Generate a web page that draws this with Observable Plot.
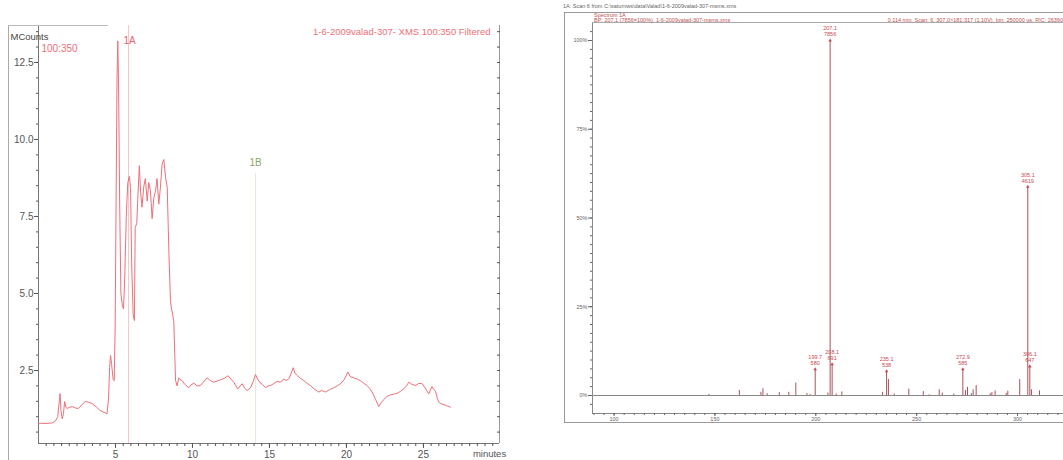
<!DOCTYPE html>
<html>
<head>
<meta charset="utf-8">
<script src="https://cdn.jsdelivr.net/npm/d3@7"></script>
<script src="https://cdn.jsdelivr.net/npm/@observablehq/plot@0.6"></script>
<style>
  html, body { margin: 0; padding: 0; background: #fff; }
  #wrap { position: relative; width: 1063px; height: 460px; overflow: hidden; font-family: "Liberation Sans", Arial, sans-serif; }
  #left, #right { position: absolute; top: 0; }
  #left { left: 0; }
  #right { left: 564px; }
  .hdr { position: absolute; font-size: 5.5px; white-space: nowrap; }
  .line { position: absolute; background: #999; }
</style>
</head>
<body>
<div id="wrap">
  <div id="left"></div>
  <div id="right"></div>
</div>
<script>
// ---------- Chromatogram (left) ----------
const chromTime = [0.0,0.5,0.9,1.1,1.25,1.35,1.4,1.46,1.54,1.62,1.7,1.78,1.86,2.0,2.19,2.4,2.6,2.8,3.04,3.25,3.47,3.75,4.0,4.25,4.45,4.55,4.62,4.68,4.75,4.85,4.92,4.98,5.04,5.1,5.15,5.2,5.27,5.35,5.45,5.52,5.6,5.7,5.8,5.9,5.98,6.05,6.15,6.23,6.28,6.38,6.46,6.55,6.63,6.72,6.83,6.94,7.06,7.16,7.27,7.38,7.49,7.6,7.7,7.81,7.92,8.03,8.14,8.25,8.36,8.47,8.57,8.62,8.72,8.79,8.85,8.9,9.0,9.11,9.22,9.33,9.5,9.76,9.9,10.09,10.3,10.52,10.7,10.95,11.15,11.38,11.6,11.82,12.05,12.31,12.5,12.68,12.94,13.1,13.23,13.4,13.55,13.77,13.95,14.09,14.25,14.41,14.55,14.74,14.9,15.06,15.3,15.5,15.7,15.93,16.1,16.26,16.4,16.54,16.65,16.8,17.0,17.23,17.45,17.66,17.9,18.2,18.4,18.64,18.9,19.18,19.4,19.61,19.85,20.09,20.25,20.48,20.7,20.91,21.1,21.34,21.5,21.67,21.9,22.1,22.25,22.42,22.6,22.86,23.05,23.29,23.5,23.72,23.9,24.05,24.25,24.48,24.7,24.92,25.15,25.35,25.48,25.56,25.65,25.78,25.9,26.0,26.15,26.32,26.5,26.76];
const chromCounts = [0.79,0.78,0.80,0.86,1.0,1.5,1.75,1.2,0.93,1.1,1.49,1.3,1.27,1.3,1.33,1.28,1.27,1.38,1.50,1.47,1.43,1.32,1.2,1.14,1.10,1.6,2.6,2.99,2.7,2.2,2.17,4.0,8.0,12.0,13.2,11.8,8.0,5.0,4.6,4.5,5.5,7.5,8.6,8.8,8.4,6.0,4.3,4.12,7.14,7.27,8.2,9.15,8.3,7.8,8.45,8.73,8.0,8.6,8.34,7.43,8.1,8.34,8.73,7.9,8.45,9.2,9.35,8.77,8.45,6.3,4.77,4.55,4.3,4.07,3.0,2.18,2.0,2.26,2.2,2.17,2.05,1.94,2.03,2.09,2.0,2.01,2.12,2.26,2.18,2.12,2.16,2.2,2.24,2.33,2.22,2.12,1.9,2.0,2.07,1.92,1.85,1.94,2.15,2.37,2.2,2.09,2.05,1.94,2.0,2.01,2.08,2.15,2.12,2.22,2.18,2.23,2.4,2.59,2.42,2.34,2.25,2.17,2.08,2.01,1.9,1.8,1.85,1.8,1.88,1.94,2.0,2.07,2.2,2.45,2.3,2.26,2.22,2.17,2.1,2.01,1.92,1.8,1.55,1.33,1.45,1.55,1.65,1.71,1.73,1.76,1.82,1.9,2.0,2.12,2.05,2.01,2.08,2.07,1.9,1.74,1.9,1.98,1.9,1.83,1.6,1.47,1.42,1.39,1.36,1.31];
const yTicksLeft = [2.5, 5.0, 7.5, 10.0, 12.5];
const xTicksLeft = [5, 10, 15, 20, 25];
const markers = [{name: "1A", t: 5.85}, {name: "1B", t: 14.1}];
const chromTitle = "1-6-2009valad-307- XMS 100:350 Filtered";

const chrom = chromTime.map((t, i) => ({t, v: chromCounts[i]}));
const xMaxL = 29.94, yMinL = 0.13, yMaxL = 13.7;
const pink = "#ee7078";
const minorY = d3.range(0.5, 13.6, 0.5);
const minorX = d3.range(0.5, 30, 0.5);

const left = Plot.plot({
  width: 540, height: 460,
  marginLeft: 38, marginRight: 41, marginTop: 25, marginBottom: 17,
  style: {fontFamily: "'Liberation Sans', Arial, sans-serif", fontSize: "10px", color: "#555", background: "transparent"},
  x: {domain: [0, xMaxL], label: null},
  y: {domain: [yMinL, yMaxL], label: null},
  marks: [
    Plot.ruleX([0], {y1: yMinL, y2: yMaxL, stroke: "#777"}),
    Plot.ruleX([xMaxL], {y1: yMinL, y2: yMaxL, stroke: "#999"}),
    Plot.ruleY([yMinL], {stroke: "#777"}),
    Plot.axisY({ticks: yTicksLeft, tickFormat: d => d.toFixed(1), tickSize: 4, tickPadding: 1, fill: "#555", label: null}),
    Plot.axisY({ticks: minorY, tickSize: 2, tickFormat: () => "", label: null}),
    Plot.axisY({anchor: "right", ticks: minorY, tickSize: 3, dx: -3, tickFormat: () => "", label: null}),
    Plot.axisX({ticks: xTicksLeft, tickSize: 5, tickPadding: 2, fill: "#555", label: null}),
    Plot.axisX({ticks: minorX, tickSize: 3, tickFormat: () => "", label: null}),
    Plot.ruleX([markers[0]], {x: "t", y1: yMinL, y2: yMaxL, stroke: "#f7c4c8", strokeWidth: 1}),
    Plot.ruleX([markers[1]], {x: "t", y1: yMinL, y2: 8.9, stroke: "#e2ebd6", strokeWidth: 1}),
    Plot.line(chrom, {x: "t", y: "v", stroke: pink, strokeWidth: 1}),
    Plot.text([markers[0]], {x: "t", y: 13.2, text: "name", dx: 1, textAnchor: "middle", fill: "#e06872", fontSize: 10}),
    Plot.text([markers[1]], {x: "t", y: 9.25, text: "name", textAnchor: "middle", dx: 0, fill: "#86a86a", fontSize: 10}),
    Plot.text(["100:350"], {frameAnchor: "top-left", dx: 3, dy: 19, text: d => d, textAnchor: "start", fill: pink, fontSize: 10}),
    Plot.text([chromTitle], {frameAnchor: "top-right", dx: -9, dy: 3, text: d => d, textAnchor: "end", fill: pink, fontSize: 9.5, fontFamily: "'Liberation Sans Narrow', 'Liberation Sans', Arial"}),
    Plot.text(["MCounts"], {frameAnchor: "top-left", dx: -28, dy: 8, text: d => d, textAnchor: "start", fill: "#444", fontSize: 9.5, fontFamily: "'Liberation Sans Narrow', 'Liberation Sans', Arial"}),
    Plot.text(["minutes"], {frameAnchor: "bottom-right", dx: -10, dy: 13, text: d => d, textAnchor: "middle", fill: "#555", fontSize: 9.5, fontFamily: "'Liberation Sans Narrow', 'Liberation Sans', Arial"})
  ]
});
document.getElementById("left").appendChild(left);

// ---------- Mass spectrum (right) ----------
const peakMz  = [147.0,162.1,172.8,173.8,175.9,181.9,186.6,190.1,195.6,197.1,199.7,206.0,207.1,208.1,210.1,212.9,233.1,235.1,236.0,238.9,246.1,253.3,256.2,261.2,262.7,268.4,272.9,274.2,275.2,277.1,278.0,279.5,286.5,287.3,288.9,294.4,295.2,301.1,305.1,306.1,306.9,310.9];
const peakPct = [0.3,1.4,0.9,1.9,0.5,0.8,0.9,3.5,0.5,0.3,7.4,0.7,100,8.8,0.4,1.0,0.9,6.8,4.5,0.4,1.8,1.1,0.2,1.6,0.7,0.4,7.4,1.4,2.3,0.5,1.6,2.8,0.5,0.8,1.3,0.6,1.2,4.5,58.8,8.2,1.6,1.3];
const labelMz    = [199.7, 207.1, 208.1, 235.1, 272.9, 305.1, 306.1];
const labelCount = [580, 7856, 691, 538, 585, 4619, 647];
const yTicksRight = [0, 25, 50, 75, 100];
const xTicksRight = [100, 150, 200, 250, 300];

const peaks = peakMz.map((mz, i) => ({mz, pct: peakPct[i]}));
const labels = labelMz.map((mz, i) => ({mz, pct: peakPct[peakMz.indexOf(mz)], count: labelCount[i]}));
const xMinR = 89.3, xMaxR = 322.8, yMinR = -5.07, yMaxR = 105.07;
const peakColor = "#a85058";
const labColor = "#c84850";

const right = Plot.plot({
  width: 499, height: 460,
  marginLeft: 28, marginRight: 0, marginTop: 22, marginBottom: 47,
  style: {fontFamily: "'Liberation Sans', Arial, sans-serif", fontSize: "5.5px", color: "#666", background: "transparent"},
  x: {domain: [xMinR, xMaxR], label: null},
  y: {domain: [yMinR, yMaxR], label: null},
  marks: [
    Plot.ruleX([xMinR], {y1: yMinR, y2: yMaxR, stroke: "#888"}),
    Plot.ruleY([yMinR], {stroke: "#888"}),
    Plot.axisY({ticks: yTicksRight, tickFormat: d => d + "%", tickSize: 4, tickPadding: 1, fontSize: 5.5, fill: "#666", label: null}),
    Plot.axisY({ticks: d3.range(-2.5, 105, 2.5), tickSize: 2, tickFormat: () => "", label: null}),
    Plot.axisX({ticks: xTicksRight, tickSize: 3, tickPadding: 1, fontSize: 5.5, fill: "#666", label: null}),
    Plot.axisX({ticks: d3.range(90, 323, 5), tickSize: 2, tickFormat: () => "", label: null}),
    Plot.ruleY([0], {stroke: "#888", strokeWidth: 1}),
    Plot.ruleX(peaks, {x: "mz", y1: 0, y2: "pct", stroke: peakColor, strokeWidth: 1}),
    Plot.dot(labels, {x: "mz", y: "pct", symbol: "triangle", r: 1.3, fill: labColor}),
    Plot.text(labels, {x: "mz", y: "pct", text: d => d.mz.toFixed(1), dy: -12, fontSize: 5.5, fill: labColor}),
    Plot.text(labels, {x: "mz", y: "pct", text: d => String(d.count), dy: -6, fontSize: 5.5, fill: labColor})
  ]
});
document.getElementById("right").appendChild(right);

// header / frame of the spectrum panel
const wrap = document.getElementById("wrap");
function addLine(x, y, w, h, c) {
  const d = document.createElement("div");
  d.className = "line";
  Object.assign(d.style, {left: x + "px", top: y + "px", width: w + "px", height: h + "px", background: c || "#999"});
  wrap.appendChild(d);
}
function addText(txt, x, y, color, align) {
  const d = document.createElement("div");
  d.className = "hdr";
  d.textContent = txt;
  Object.assign(d.style, {top: y + "px", color: color});
  if (align === "right") d.style.right = x + "px"; else d.style.left = x + "px";
  wrap.appendChild(d);
}
addLine(564, 12, 499, 1, "#999");
addLine(564, 12, 1, 411, "#999");
addLine(564, 422, 499, 1, "#999");
addLine(592, 22, 471, 1, "#aaa");
addLine(8, 25, 1, 435, "#aaa");
addLine(8, 25, 100, 1, "#bbb");
addText("1A: Scan 6 from C:\\saturnws\\data\\Valad\\1-6-2009valad-307-msms.xms", 563, 3, "#666");
addText("Spectrum 1A", 594, 11.5, "#c05050");
addText("BP: 207.1 (7856=100%), 1-6-2009valad-307-msms.xms", 594, 17, "#c05050");
addText("0.114 min, Scan: 6, 307.0>181:317 (1.10V), Ion: 250000 us, RIC: 26390", 0, 17, "#c05050", "right");
</script>
</body>
</html>
